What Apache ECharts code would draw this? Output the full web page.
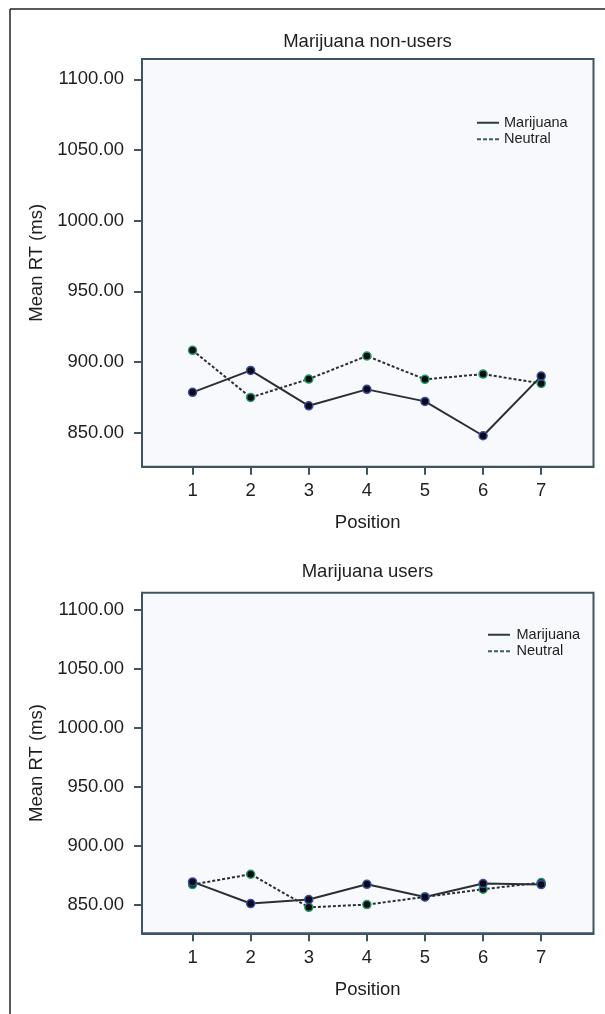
<!DOCTYPE html>
<html>
<head>
<meta charset="utf-8">
<script src="https://cdn.jsdelivr.net/npm/echarts@6/dist/echarts.min.js"></script>
<style>
  html, body { margin: 0; padding: 0; background: #ffffff; }
  #main { width: 605px; height: 1014px; }
</style>
</head>
<body>
<div id="main"></div>
<script>
// positions on the x axis
var positions = [1, 2, 3, 4, 5, 6, 7];
// mean RT, non-users panel
var nonUsersMarijuana = [878.6, 894.1, 869.1, 880.7, 872.2, 847.9, 890.1];
var nonUsersNeutral = [908.3, 875.0, 888.0, 904.3, 887.8, 891.5, 884.9];
// mean RT, users panel
var usersMarijuana = [869.5, 851.2, 854.6, 867.5, 856.8, 868.1, 867.3];
var usersNeutral = [867.3, 876.0, 848.0, 850.3, 856.8, 863.3, 869.0];
// tick labels
var yTicks = [850, 900, 950, 1000, 1050, 1100];
var titles = ['Marijuana non-users', 'Marijuana users'];

var font = 'Liberation Sans';
var fs = 18.5;
var frameColor = '#3e5461';
var textColor = '#1e1e1e';

function pairs(vals) {
  return vals.map(function (v, i) { return [positions[i], v]; });
}

function xAxisFor(idx) {
  return {
    type: 'value',
    gridIndex: idx,
    min: 0.13,
    max: 7.9,
    name: 'Position',
    nameLocation: 'middle',
    nameGap: 47,
    nameTextStyle: { fontFamily: font, fontSize: fs, color: textColor },
    axisLine: { show: true, lineStyle: { color: frameColor, width: 2 } },
    axisTick: { show: true, length: 8, customValues: positions, lineStyle: { color: frameColor, width: 2 } },
    axisLabel: { customValues: positions, margin: 15, fontFamily: font, fontSize: fs, color: textColor },
    splitLine: { show: false }
  };
}

function yAxisFor(idx) {
  return {
    type: 'value',
    gridIndex: idx,
    min: 826,
    max: 1114.4,
    name: 'Mean RT (ms)',
    nameLocation: 'middle',
    nameGap: 91,
    nameTextStyle: { fontFamily: font, fontSize: fs, color: textColor },
    axisLine: { show: true, lineStyle: { color: frameColor, width: 2 } },
    axisTick: { show: true, length: 8, customValues: yTicks, lineStyle: { color: frameColor, width: 2 } },
    axisLabel: {
      customValues: yTicks,
      margin: 18,
      fontFamily: font,
      fontSize: fs,
      color: textColor,
      formatter: function (v) { return v.toFixed(2); }
    },
    splitLine: { show: false }
  };
}

function lineSeries(name, idx, vals, dashed, ring) {
  return {
    name: name,
    type: 'line',
    xAxisIndex: idx,
    yAxisIndex: idx,
    data: pairs(vals),
    symbol: 'circle',
    symbolSize: 8,
    lineStyle: { color: '#2b2f33', width: 2, type: dashed ? [3, 2] : 'solid' },
    itemStyle: { color: '#0b0b10', borderColor: ring, borderWidth: 1.5 },
    emphasis: { disabled: true },
    animation: false
  };
}

var solidIcon = 'path://M0,0H22V2H0Z';
var dashIcon = 'path://M0,0H4V2H0Z M6,0H10V2H6Z M12,0H16V2H12Z M18,0H22V2H18Z';

function legendFor(left, top, w) {
  return {
    orient: 'vertical',
    left: left,
    top: top,
    itemWidth: w,
    itemHeight: 2,
    itemGap: 0,
    padding: 0,
    selectedMode: false,
    textStyle: { fontFamily: font, fontSize: 14.5, color: textColor, lineHeight: 16.5 },
    data: [
      { name: 'Marijuana', icon: solidIcon, itemStyle: { color: '#2b3a44', borderWidth: 0 } },
      { name: 'Neutral', icon: dashIcon, itemStyle: { color: '#3b5a6a', borderWidth: 0 } }
    ]
  };
}

var myChart = echarts.init(document.getElementById('main'), null, { renderer: 'canvas' });

var option = {
  backgroundColor: '#ffffff',
  animation: false,
  title: [
    { text: titles[0], left: 367.5, top: 32, textAlign: 'center', padding: 0,
      textStyle: { fontFamily: font, fontSize: fs, fontWeight: 'normal', color: textColor } },
    { text: titles[1], left: 367.5, top: 562.5, textAlign: 'center', padding: 0,
      textStyle: { fontFamily: font, fontSize: fs, fontWeight: 'normal', color: textColor } }
  ],
  legend: [legendFor(477, 114.5, 22), legendFor(488, 626.5, 25)],
  grid: [
    { left: 142, top: 59, width: 451.5, height: 407.7, show: true,
      backgroundColor: '#f7f9fc', borderColor: frameColor, borderWidth: 2 },
    { left: 142, top: 592.7, width: 451.5, height: 340.6, show: true,
      backgroundColor: '#f7f9fc', borderColor: frameColor, borderWidth: 2 }
  ],
  xAxis: [xAxisFor(0), xAxisFor(1)],
  yAxis: [yAxisFor(0), yAxisFor(1)],
  series: [
    lineSeries('Neutral', 0, nonUsersNeutral, true, '#1f9a62'),
    lineSeries('Marijuana', 0, nonUsersMarijuana, false, '#3a4aa8'),
    lineSeries('Neutral', 1, usersNeutral, true, '#1f9a62'),
    lineSeries('Marijuana', 1, usersMarijuana, false, '#3a4aa8')
  ],
  graphic: [
    // outer figure frame (left and top edges)
    { type: 'line', shape: { x1: 10, y1: 9, x2: 10, y2: 1014 }, style: { stroke: '#222', lineWidth: 1.5 } },
    { type: 'line', shape: { x1: 10, y1: 9, x2: 605, y2: 9 }, style: { stroke: '#222', lineWidth: 1.5 } }
  ]
};

myChart.setOption(option);
window.onresize = function () {
  myChart.resize();
};
</script>
</body>
</html>
